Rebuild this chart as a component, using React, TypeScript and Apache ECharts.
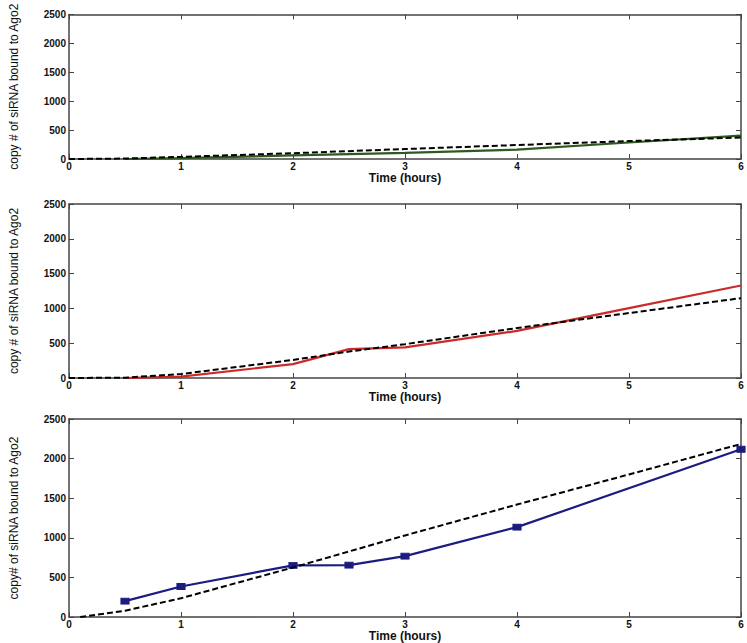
import React, { useEffect, useRef } from "react";
import * as echarts from "echarts";

const yTicks = [0, 500, 1000, 1500, 2000, 2500];
const xTicks = [0, 1, 2, 3, 4, 5, 6];

// Panel 1 (green)
const p1ModelT = [0, 0.5, 1, 2, 3, 4, 5, 6];
const p1ModelV = [0, 8, 37, 100, 172, 242, 310, 371];
const p1DataT = [0.5, 1, 2, 3, 4, 5, 6];
const p1DataV = [0, 16, 62, 105, 161, 285, 403];

// Panel 2 (red)
const p2ModelT = [0, 0.5, 1, 2, 2.5, 3, 4, 5, 6];
const p2ModelV = [0, 5, 57, 260, 380, 486, 718, 933, 1147];
const p2DataT = [0.5, 1, 2, 2.5, 3, 4, 5, 6];
const p2DataV = [0, 19, 200, 415, 440, 676, 1004, 1329];

// Panel 3 (navy)
const p3ModelT = [0.1, 0.5, 1, 2, 3, 4, 5, 6];
const p3ModelV = [0, 79, 237, 625, 1030, 1420, 1800, 2185];
const p3DataT = [0.5, 1, 2, 2.5, 3, 4, 6];
const p3DataV = [200, 385, 652, 655, 768, 1135, 2118];

const yNames = [
  "copy # of siRNA bound to Ago2",
  "copy # of siRNA bound to Ago2",
  "copy# of siRNA bound to Ago2",
];

const pairs = (t: number[], v: number[]) => t.map((x, i) => [x, v[i]]);

export default function App() {
  const ref = useRef<HTMLDivElement>(null);
  useEffect(() => {
    if (!ref.current) return;
    const chart = echarts.init(ref.current, null, { renderer: "svg" });
    const grids = [
      { left: 65, right: 6, top: 5, height: 154 },
      { left: 65, right: 6, top: 204, height: 174 },
      { left: 65, right: 6, top: 419, height: 200 },
    ];
    const axisColor = "#444";
    const font = "Liberation Sans, Arial, sans-serif";
    const xAxes: any[] = [];
    const yAxes: any[] = [];
    grids.forEach((_, i) => {
      xAxes.push({
        type: "value",
        gridIndex: i,
        min: xTicks[0],
        max: xTicks[xTicks.length - 1],
        interval: 1,
        position: "bottom",
        name: "Time (hours)",
        nameLocation: "middle",
        nameGap: 13,
        nameTextStyle: { fontFamily: font, fontSize: 12, fontWeight: "bold", color: "#111" },
        axisLine: { show: true, onZero: false, lineStyle: { color: axisColor, width: 1.5 } },
        axisTick: { show: true, inside: true, length: 5, lineStyle: { color: axisColor } },
        axisLabel: { fontFamily: font, fontSize: 10, fontWeight: "bold", color: "#111", margin: 2 },
        splitLine: { show: false },
      });
      xAxes.push({
        type: "value",
        gridIndex: i,
        min: xTicks[0],
        max: xTicks[xTicks.length - 1],
        interval: 1,
        position: "top",
        axisLine: { show: true, onZero: false, lineStyle: { color: axisColor, width: 1.5 } },
        axisTick: { show: true, inside: true, length: 5, lineStyle: { color: axisColor } },
        axisLabel: { show: false },
        splitLine: { show: false },
      });
      yAxes.push({
        type: "value",
        gridIndex: i,
        min: yTicks[0],
        max: yTicks[yTicks.length - 1],
        interval: 500,
        position: "left",
        name: yNames[i],
        nameLocation: "middle",
        nameGap: 49,
        nameTextStyle: { fontFamily: "Liberation Sans Narrow, Arial Narrow, sans-serif", fontSize: 12, color: "#111" },
        axisLine: { show: true, onZero: false, lineStyle: { color: axisColor, width: 1.5 } },
        axisTick: { show: true, inside: true, length: 5, lineStyle: { color: axisColor } },
        axisLabel: {
          fontFamily: font,
          fontSize: 10,
          fontWeight: "bold",
          color: "#111",
          margin: 3,
          formatter: (v: number) => String(v),
        },
        splitLine: { show: false },
      });
      yAxes.push({
        type: "value",
        gridIndex: i,
        min: yTicks[0],
        max: yTicks[yTicks.length - 1],
        interval: 500,
        position: "right",
        axisLine: { show: true, onZero: false, lineStyle: { color: axisColor, width: 1.5 } },
        axisTick: { show: true, inside: true, length: 5, lineStyle: { color: axisColor } },
        axisLabel: { show: false },
        splitLine: { show: false },
      });
    });
    const dashed = (i: number, t: number[], v: number[]) => ({
      type: "line",
      xAxisIndex: i * 2,
      yAxisIndex: i * 2,
      data: pairs(t, v),
      showSymbol: false,
      symbol: "none",
      lineStyle: { color: "#000", width: 2, type: [6, 3] },
      z: 3,
    });
    const solid = (i: number, t: number[], v: number[], color: string, marker: boolean) => ({
      type: "line",
      xAxisIndex: i * 2,
      yAxisIndex: i * 2,
      data: pairs(t, v),
      showSymbol: marker,
      symbol: marker ? "rect" : "none",
      symbolSize: marker ? [8, 6] : 0,
      itemStyle: { color, borderColor: color, borderWidth: 1 },
      lineStyle: { color, width: 2.2 },
      z: 2,
    });
    chart.setOption({
      animation: false,
      backgroundColor: "#fff",
      grid: grids,
      xAxis: xAxes,
      yAxis: yAxes,
      series: [
        solid(0, p1DataT, p1DataV, "#2f5a1f", false),
        dashed(0, p1ModelT, p1ModelV),
        solid(1, p2DataT, p2DataV, "#cc2a2a", false),
        dashed(1, p2ModelT, p2ModelV),
        solid(2, p3DataT, p3DataV, "#1c1c80", true),
        dashed(2, p3ModelT, p3ModelV),
      ],
    });
    return () => chart.dispose();
  }, []);
  return (
    <div
      ref={ref}
      style={{ position: "fixed", left: 0, top: 0, width: 747, height: 643, background: "#fff" }}
    />
  );
}
